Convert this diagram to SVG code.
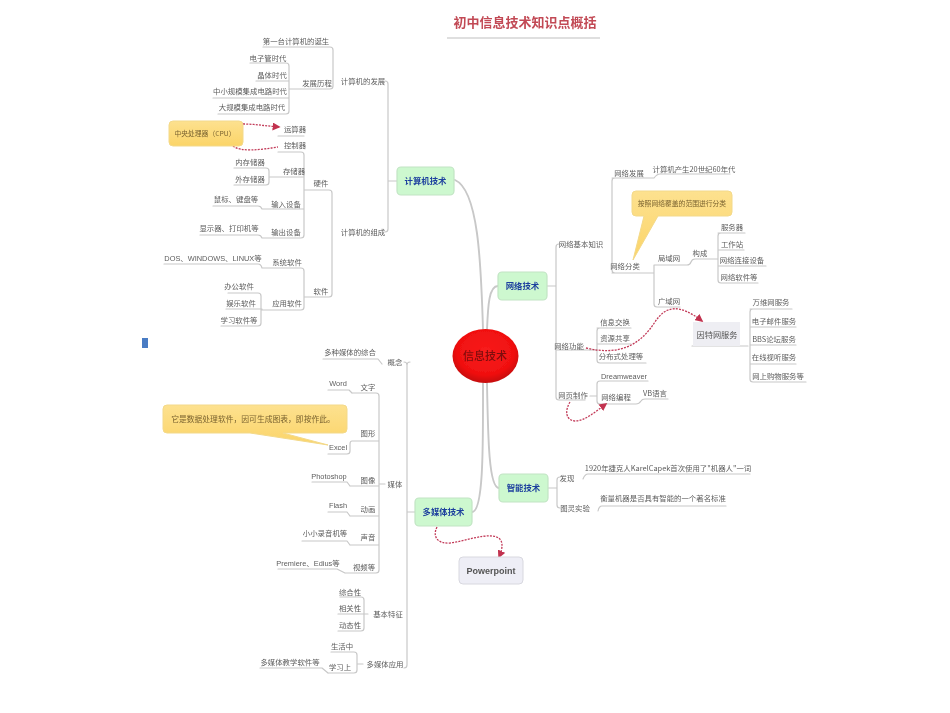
<svg xmlns="http://www.w3.org/2000/svg" width="950" height="713" viewBox="0 0 950 713">
<style>
text{font-family:"Noto Sans CJK SC","Liberation Sans",sans-serif;text-anchor:middle}
.t{font-size:7.4px;fill:#5c5c5c}
.l{font-size:7.4px;fill:#5c5c5c;font-family:"Liberation Sans","Noto Sans CJK SC",sans-serif}
.m{font-size:8.4px;font-weight:700;fill:#1d3f9e}
.b{fill:#cdf8cf;stroke:#c2e4c4;stroke-width:1.2}
.c{fill:url(#y);stroke:#f3d98a;stroke-width:1}
.w{fill:none;stroke:#c8c8c8;stroke-width:1.2;stroke-linecap:round;stroke-linejoin:round}
.r{fill:none;stroke:#c8c8c8;stroke-width:1.9;stroke-linecap:round}
.d{fill:none;stroke:#c23a58;stroke-width:1.3;stroke-dasharray:2 1.2}
</style>
<defs>
<linearGradient id="y" x1="0" y1="0" x2="0" y2="1"><stop offset="0" stop-color="#fde18f"/><stop offset="1" stop-color="#fbd468"/></linearGradient>
<radialGradient id="rg" cx="0.5" cy="0.42" r="0.62"><stop offset="0" stop-color="#f81c1c"/><stop offset="0.7" stop-color="#f01010"/><stop offset="1" stop-color="#b80606"/></radialGradient>
<marker id="a" viewBox="0 0 10 10" refX="8" refY="5" markerWidth="8" markerHeight="8" markerUnits="userSpaceOnUse" orient="auto"><path d="M0 0L10 5L0 10Z" fill="#c23350"/></marker>
<filter id="s" x="-2%" y="-2%" width="104%" height="104%"><feGaussianBlur stdDeviation="0.5"/></filter>
</defs>
<rect width="950" height="713" fill="#fff"/>
<g filter="url(#s)">
<g id="connectors">
<path class="r" d="M483 330C481 260 478 190 455 180M487 330C488 305 489 286 498 286M483 383C483 440 484 512 472 512M487 383C488 440 489 488 499 488"/>
<path d="M447 38H600" fill="none" stroke="#d4d4d4" stroke-width="1.6"/>
<path class="w" d="M388 181H397M388 84V229Q388 232 385 232M388 84Q388 81 385 81M263 47H330Q333 47 333 50V86Q333 89 330 89H300M289 89H300M250 63H286Q289 63 289 66V111Q289 114 286 114H218M256 81H289M213 98H289"/>
<path class="w" d="M278 136H304M278 152H301Q304 152 304 155V235Q304 238 301 238H262M270 177H304M234 168H266Q269 168 269 171V182Q269 185 266 185H234M262 209H304M213 206H258Q261 206 262 209M200 235H258Q261 235 262 238M305 190H329Q332 190 332 193V294Q332 297 329 297H305M304 190H305M262 268H301Q304 268 304 271V307Q304 310 301 310H262M164 264H258Q261 264 262 268M304 297H305M228 293H258Q261 293 261 296V323Q261 326 258 326H221M226 309H262"/>
<path class="w" d="M547 286H556M556 247Q556 244 559 244M556 247V397Q556 400 559 400H585M556 350H590M612 178H654Q657 174 660 174H730M615 178Q612 178 612 181V270Q612 273 615 273H654M654 265V304Q654 307 657 307H680M612 273H654M654 265H687Q690 265 691 262Q692 259 695 259H716M718 233H745M721 233Q718 233 718 236V280Q718 283 721 283H758M718 250H744M718 266H766M716 259H718M692 346H748M750 309H792M753 309Q750 309 750 312V379Q750 382 753 382H806M750 327H796M750 345H796M750 364H796"/>
<path class="w" d="M597 328H631M600 328Q597 328 597 331V360Q597 363 600 363H646M597 344H631M590 350H597M600 381H648M600 381Q597 381 597 384V401Q597 404 600 404H636Q639 404 641 401Q642 399 645 399H668M590 396H597"/>
<path class="w" d="M548 488H557M557 480Q557 477 560 477M557 480V505Q557 508 560 508M583 479Q585 474 588 474H750M598 511Q599 506 602 506H726"/>
<path class="w" d="M407 512H415M410 362Q407 362 407 365V665Q407 668 404 668M407 365Q407 362 404 362M323 359H378L382 364M352 393H376Q379 393 379 396V570Q379 573 376 573H345M328 390H349L352 393M352 441H379M328 454H347Q350 454 350 451V444Q350 441 352 441M350 486H379M312 482H347L350 486M350 516H379M328 512H347L350 516M350 545H379M302 541H347L350 545M278 569H337L345 573M379 484H385M340 597H361Q364 597 364 600V628Q364 631 361 631H338M338 614H368M331 652H354Q357 652 357 655V670Q357 673 354 673H328M260 668H322L328 673M357 664H363"/>
<path class="d" marker-end="url(#a)" d="M243 124C255 124 266 126 279 127"/>
<path class="d" d="M233 146C240 152 260 150 278 147"/>
<path class="d" marker-end="url(#a)" d="M586 348C620 356 640 345 655 322C666 305 680 304 702 321"/>
<path class="d" marker-end="url(#a)" d="M570 402C565 410 565 420 575 421C585 421 595 412 606 404"/>
<path class="d" marker-end="url(#a)" d="M437 527C432 537 438 544 450 543C465 541 480 535 492 536C505 537 503 548 499 557"/>
</g>
<g id="title"><text x="525" y="27" font-size="13" font-weight="700" fill="#c24a55">初中信息技术知识点概括</text></g>
<g id="root"><ellipse cx="485.500" cy="356" rx="33" ry="27" fill="url(#rg)"/><text x="485" y="360" font-size="11" font-weight="500" fill="#7d0f0f">信息技术</text></g>
<g id="n-computer"><rect class="b" x="397" y="167" width="57" height="28" rx="4"/><text class="m" x="425.500" y="184">计算机技术</text></g>
<g id="n-network"><rect class="b" x="498" y="272" width="49" height="28" rx="4"/><text class="m" x="522.500" y="289">网络技术</text></g>
<g id="n-ai"><rect class="b" x="499" y="474" width="49" height="28" rx="4"/><text class="m" x="523.500" y="491">智能技术</text></g>
<g id="n-media"><rect class="b" x="415" y="498" width="57" height="28" rx="4"/><text class="m" x="443.500" y="515">多媒体技术</text></g>
<g id="n-ppt"><rect x="459" y="557" width="64" height="27" rx="4" fill="#eeeef6" stroke="#d8d8df"/><text x="491" y="574" font-size="9" font-weight="700" fill="#555" style="font-family:'Liberation Sans',sans-serif">Powerpoint</text></g>
<g id="n-inet"><rect x="693" y="322" width="47" height="24" fill="#eeeef3"/><text x="717" y="337.500" font-size="8.200" fill="#555">因特网服务</text></g>
<g id="c-cpu"><rect class="c" x="169" y="121" width="74" height="25" rx="4"/><text x="205" y="136" font-size="6.800" fill="#7a6330">中央处理器（CPU）</text></g>
<g id="c-net"><path class="c" d="M636 191H728Q732 191 732 195V212Q732 216 728 216H658L633 260L644 216H636Q632 216 632 212V195Q632 191 636 191Z"/><text x="682" y="206" font-size="6.800" fill="#7a6330">按照网络覆盖的范围进行分类</text></g>
<g id="c-excel"><path class="c" d="M167 405H343Q347 405 347 409V429Q347 433 343 433H283L328 445L250 433H167Q163 433 163 429V409Q163 405 167 405Z"/><text x="253" y="422" font-size="7.800" fill="#7a6330">它是数据处理软件，因可生成图表，即按作此。</text></g>
<g id="mark"><rect x="142" y="338" width="6" height="10" fill="#4a7cc4"/></g>
<g id="leaves" class="t">
<g id="n1"><text class="t" x="296" y="44">第一台计算机的诞生</text></g>
<g id="n2"><text class="t" x="268" y="61">电子管时代</text></g>
<g id="n3"><text class="t" x="272" y="78">晶体时代</text></g>
<g id="n4"><text class="t" x="250" y="94">中小规模集成电路时代</text></g>
<g id="n5"><text class="t" x="252" y="110">大规模集成电路时代</text></g>
<g id="n6"><text class="t" x="317" y="86">发展历程</text></g>
<g id="n7"><text class="t" x="363" y="84">计算机的发展</text></g>
<g id="n8"><text class="t" x="363" y="235">计算机的组成</text></g>
<g id="n9"><text class="t" x="295" y="132">运算器</text></g>
<g id="n10"><text class="t" x="295" y="148">控制器</text></g>
<g id="n11"><text class="t" x="294" y="174">存储器</text></g>
<g id="n12"><text class="t" x="250" y="165">内存储器</text></g>
<g id="n13"><text class="t" x="250" y="182">外存储器</text></g>
<g id="n14"><text class="t" x="286" y="207">输入设备</text></g>
<g id="n15"><text class="t" x="236" y="202">鼠标、键盘等</text></g>
<g id="n16"><text class="t" x="286" y="235">输出设备</text></g>
<g id="n17"><text class="t" x="229" y="231">显示器、打印机等</text></g>
<g id="n18"><text class="t" x="321" y="186">硬件</text></g>
<g id="n19"><text class="t" x="321" y="294">软件</text></g>
<g id="n20"><text class="t" x="287" y="265">系统软件</text></g>
<g id="n21"><text class="l" x="213" y="261">DOS、WINDOWS、LINUX等</text></g>
<g id="n22"><text class="t" x="287" y="306">应用软件</text></g>
<g id="n23"><text class="t" x="239" y="289">办公软件</text></g>
<g id="n24"><text class="t" x="241" y="306">娱乐软件</text></g>
<g id="n25"><text class="t" x="239" y="323">学习软件等</text></g>
<g id="n26"><text class="t" x="581" y="247">网络基本知识</text></g>
<g id="n27"><text class="t" x="569" y="349">网络功能</text></g>
<g id="n28"><text class="t" x="573" y="398">网页制作</text></g>
<g id="n29"><text class="t" x="629" y="176">网络发展</text></g>
<g id="n30"><text class="t" x="694" y="172">计算机产生20世纪60年代</text></g>
<g id="n31"><text class="t" x="625" y="269">网络分类</text></g>
<g id="n32"><text class="t" x="669" y="261">局域网</text></g>
<g id="n33"><text class="t" x="669" y="304">广域网</text></g>
<g id="n34"><text class="t" x="700" y="256">构成</text></g>
<g id="n35"><text class="t" x="732" y="230">服务器</text></g>
<g id="n36"><text class="t" x="732" y="247">工作站</text></g>
<g id="n37"><text class="t" x="742" y="263">网络连接设备</text></g>
<g id="n38"><text class="t" x="739" y="280">网络软件等</text></g>
<g id="n39"><text class="t" x="771" y="305">万维网服务</text></g>
<g id="n40"><text class="t" x="774" y="324">电子邮件服务</text></g>
<g id="n41"><text class="t" x="774" y="342">BBS论坛服务</text></g>
<g id="n42"><text class="t" x="774" y="360">在线视听服务</text></g>
<g id="n43"><text class="t" x="778" y="379">网上购物服务等</text></g>
<g id="n44"><text class="t" x="615" y="325">信息交换</text></g>
<g id="n45"><text class="t" x="615" y="341">资源共享</text></g>
<g id="n46"><text class="t" x="621" y="359">分布式处理等</text></g>
<g id="n47"><text class="l" x="624" y="379">Dreamweaver</text></g>
<g id="n48"><text class="t" x="616" y="400">网络编程</text></g>
<g id="n49"><text class="t" x="655" y="396">VB语言</text></g>
<g id="n50"><text class="t" x="567" y="481">发现</text></g>
<g id="n51"><text class="t" x="575" y="511">图灵实验</text></g>
<g id="n52"><text class="t" x="668" y="471">1920年捷克人KarelCapek首次使用了"机器人"一词</text></g>
<g id="n53"><text class="t" x="663" y="501">衡量机器是否具有智能的一个著名标准</text></g>
<g id="n54"><text class="t" x="395" y="365">概念</text></g>
<g id="n55"><text class="t" x="350" y="355">多种媒体的综合</text></g>
<g id="n56"><text class="t" x="395" y="487">媒体</text></g>
<g id="n57"><text class="t" x="388" y="617">基本特征</text></g>
<g id="n58"><text class="t" x="385" y="667">多媒体应用</text></g>
<g id="n59"><text class="t" x="368" y="390">文字</text></g>
<g id="n60"><text class="l" x="338" y="386">Word</text></g>
<g id="n61"><text class="t" x="368" y="436">图形</text></g>
<g id="n62"><text class="l" x="338" y="450">Excel</text></g>
<g id="n63"><text class="t" x="368" y="483">图像</text></g>
<g id="n64"><text class="l" x="329" y="479">Photoshop</text></g>
<g id="n65"><text class="t" x="368" y="512">动画</text></g>
<g id="n66"><text class="l" x="338" y="508">Flash</text></g>
<g id="n67"><text class="t" x="368" y="540">声音</text></g>
<g id="n68"><text class="t" x="325" y="536">小小录音机等</text></g>
<g id="n69"><text class="t" x="364" y="570">视频等</text></g>
<g id="n70"><text class="l" x="308" y="566">Premiere、Edius等</text></g>
<g id="n71"><text class="t" x="350" y="595">综合性</text></g>
<g id="n72"><text class="t" x="350" y="611">相关性</text></g>
<g id="n73"><text class="t" x="350" y="628">动态性</text></g>
<g id="n74"><text class="t" x="342" y="649">生活中</text></g>
<g id="n75"><text class="t" x="340" y="670">学习上</text></g>
<g id="n76"><text class="t" x="290" y="665">多媒体教学软件等</text></g>
</g>
</g>
</svg>
